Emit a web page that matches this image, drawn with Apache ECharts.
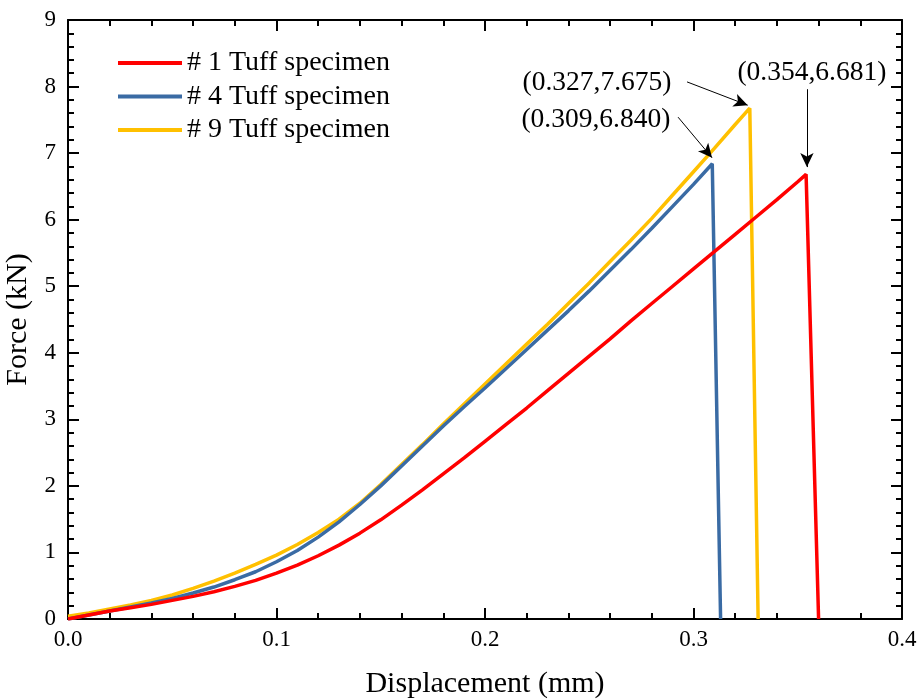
<!DOCTYPE html>
<html>
<head>
<meta charset="utf-8">
<script src="https://cdn.jsdelivr.net/npm/echarts@6/dist/echarts.min.js"></script>
<style>
  html, body { margin: 0; padding: 0; background: #fff; }
  #chart { width: 919px; height: 700px; }
</style>
</head>
<body>
<div id="chart"></div>
<script>
// displacement (mm) / force (kN)
const seriesNames = ['# 1 Tuff specimen', '# 4 Tuff specimen', '# 9 Tuff specimen']
const seriesColors = ['#ff0000', '#3a6ba4', '#ffc000']

const disp1 = [0, 0.01, 0.02, 0.03, 0.04, 0.05, 0.06, 0.07, 0.08, 0.09, 0.10, 0.11, 0.12, 0.13, 0.14, 0.15, 0.16, 0.17, 0.18, 0.19, 0.20, 0.21, 0.22, 0.23, 0.24, 0.25, 0.26, 0.27, 0.28, 0.29, 0.30, 0.31, 0.32, 0.33, 0.34, 0.35, 0.354, 0.360]
const force1 = [0, 0.06, 0.12, 0.17, 0.22, 0.28, 0.34, 0.41, 0.49, 0.58, 0.69, 0.81, 0.95, 1.11, 1.29, 1.49, 1.71, 1.94, 2.18, 2.42, 2.67, 2.92, 3.17, 3.43, 3.69, 3.95, 4.21, 4.48, 4.74, 5.00, 5.26, 5.52, 5.78, 6.04, 6.30, 6.57, 6.681, 0]

const disp4 = [0, 0.01, 0.02, 0.03, 0.04, 0.05, 0.06, 0.07, 0.08, 0.09, 0.10, 0.11, 0.12, 0.13, 0.14, 0.15, 0.16, 0.17, 0.18, 0.19, 0.20, 0.21, 0.22, 0.23, 0.24, 0.25, 0.26, 0.27, 0.28, 0.29, 0.30, 0.309, 0.313]
const force4 = [0, 0.06, 0.12, 0.18, 0.24, 0.31, 0.39, 0.48, 0.59, 0.71, 0.86, 1.03, 1.23, 1.46, 1.72, 2.00, 2.30, 2.60, 2.90, 3.19, 3.47, 3.76, 4.05, 4.34, 4.63, 4.93, 5.24, 5.55, 5.87, 6.20, 6.53, 6.840, 0]

const disp9 = [0, 0.01, 0.02, 0.03, 0.04, 0.05, 0.06, 0.07, 0.08, 0.09, 0.10, 0.11, 0.12, 0.13, 0.14, 0.15, 0.16, 0.17, 0.18, 0.19, 0.20, 0.21, 0.22, 0.23, 0.24, 0.25, 0.26, 0.27, 0.28, 0.29, 0.30, 0.31, 0.32, 0.327, 0.331]
const force9 = [0.04, 0.09, 0.15, 0.21, 0.28, 0.36, 0.46, 0.57, 0.69, 0.82, 0.96, 1.12, 1.30, 1.50, 1.74, 2.02, 2.32, 2.62, 2.93, 3.23, 3.53, 3.83, 4.13, 4.43, 4.74, 5.05, 5.37, 5.69, 6.02, 6.37, 6.72, 7.07, 7.43, 7.675, 0]

// peak annotations: label text, label centre, arrow start, arrow tip (data coords)
const peakLabels = ['(0.354,6.681)', '(0.309,6.840)', '(0.327,7.675)']
const labelAt = [[0.3568, 8.20], [0.2532, 7.50], [0.2537, 8.05]]
const arrowFrom = [[0.3544, 7.96], [0.2926, 7.54], [0.2969, 8.07]]
const arrowTo = [[0.3544, 6.79], [0.3089, 6.93], [0.3260, 7.72]]

const xTicks = { min: 0, max: 0.4, interval: 0.1 }
const yTicks = { min: 0, max: 9, interval: 1 }

const FONT = '"Liberation Serif", "Times New Roman", serif'

const chart = echarts.init(document.getElementById('chart'), null, { renderer: 'canvas' })

function makeAxis(kind, pos, showLabel, range, name) {
    return {
        type: 'value',
        position: pos,
        min: range.min,
        max: range.max,
        interval: range.interval,
        name: name,
        nameLocation: 'middle',
        nameGap: kind === 'x' ? 50 : 24,
        nameTextStyle: { fontFamily: FONT, fontSize: 30, color: '#000' },
        axisLine: { show: true, onZero: false, lineStyle: { color: '#000', width: 2 } },
        axisTick: { show: true, inside: true, length: 11, lineStyle: { color: '#000', width: 2 } },
        minorTick: { show: true, splitNumber: 5, length: 6, lineStyle: { color: '#000', width: 2 } },
        splitLine: { show: false },
        minorSplitLine: { show: false },
        axisLabel: {
            show: showLabel,
            fontFamily: FONT,
            fontSize: 23,
            color: '#000',
            margin: kind === 'x' ? 9 : 12,
            formatter: kind === 'x' ? v => v.toFixed(1) : v => String(v)
        }
    }
}

const xs = [disp1, disp4, disp9]
const ys = [force1, force4, force9]

const series = seriesNames.map((name, i) => ({
    name: name,
    type: 'line',
    xAxisIndex: 0,
    yAxisIndex: 0,
    symbol: 'none',
    smooth: false,
    data: xs[i].map((x, k) => [x, ys[i][k]]),
    lineStyle: { color: seriesColors[i], width: 3.5 },
    itemStyle: { color: seriesColors[i] },
    z: 3 - i,
    markPoint: {
        symbol: 'circle',
        symbolSize: 0,
        silent: true,
        label: {
            show: true,
            position: 'inside',
            formatter: peakLabels[i],
            fontFamily: FONT,
            fontSize: 27.5,
            color: '#000'
        },
        data: [{ coord: labelAt[i] }]
    },
    markLine: {
        silent: true,
        symbol: ['none', 'arrow'],
        symbolSize: [10, 14],
        label: { show: false },
        lineStyle: { color: '#000', width: 1, type: 'solid' },
        data: [[{ coord: arrowFrom[i] }, { coord: arrowTo[i] }]]
    }
}))

chart.setOption({
    animation: false,
    backgroundColor: '#fff',
    grid: { left: 68, right: 17, top: 20, bottom: 81, containLabel: false, outerBoundsMode: 'none' },
    legend: {
        orient: 'vertical',
        left: 118,
        top: 48,
        padding: 0,
        icon: 'rect',
        itemWidth: 64,
        itemHeight: 4,
        itemGap: 3.5,
        data: seriesNames,
        textStyle: { fontFamily: FONT, fontSize: 28, color: '#000', lineHeight: 30 }
    },
    xAxis: [
        makeAxis('x', 'bottom', true, xTicks, 'Displacement (mm)'),
        makeAxis('x', 'top', false, xTicks, '')
    ],
    yAxis: [
        makeAxis('y', 'left', true, yTicks, 'Force (kN)'),
        makeAxis('y', 'right', false, yTicks, '')
    ],
    series: series
})
</script>
</body>
</html>
